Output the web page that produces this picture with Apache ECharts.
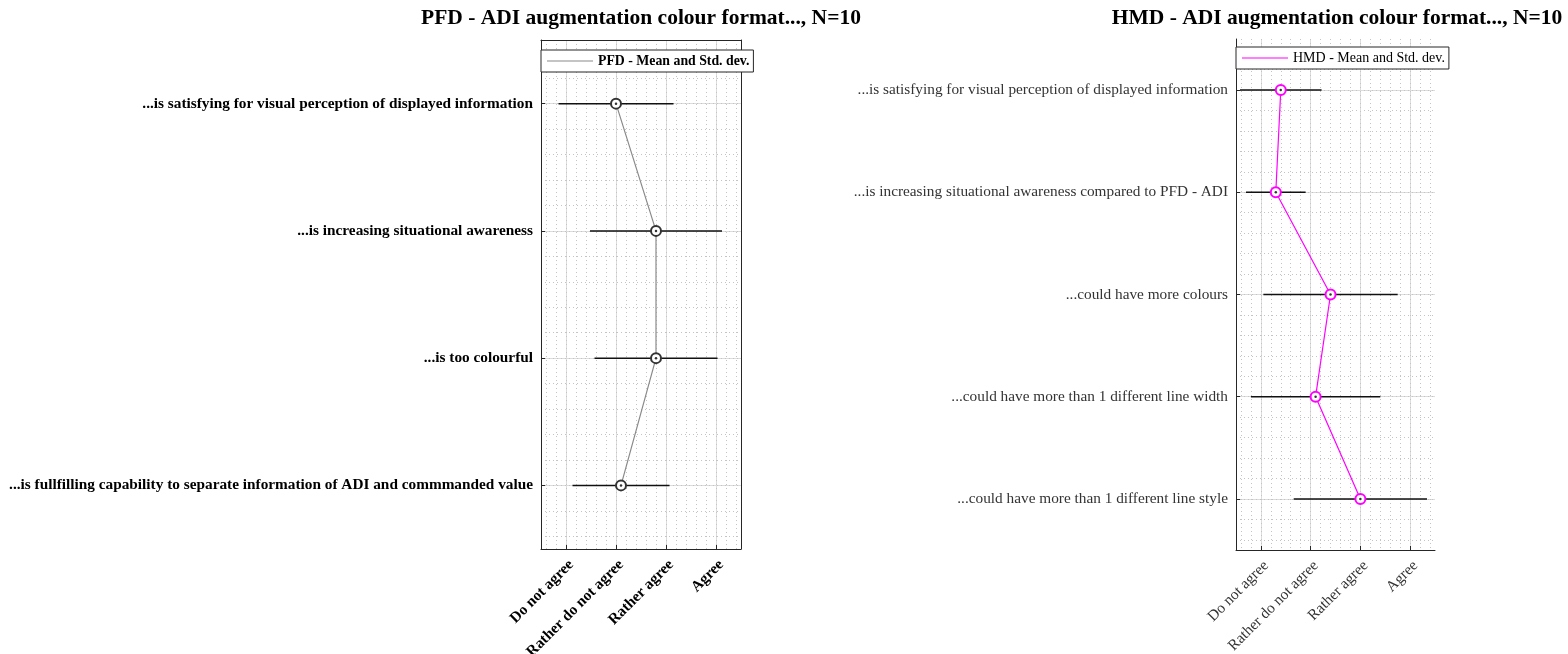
<!DOCTYPE html>
<html>
<head>
<meta charset="utf-8">
<script src="https://cdn.jsdelivr.net/npm/echarts@6/dist/echarts.min.js"></script>
<style>
  html, body { margin: 0; padding: 0; background: #fff; }
  #chart { width: 1568px; height: 654px; }
</style>
</head>
<body>
<div id="chart"></div>
<script>
// answer scale (x axis)
var scaleLabels = ['Do not agree', 'Rather do not agree', 'Rather agree', 'Agree']

// PFD - ADI questions, mean and std. dev.
var pfdItems = [
  '...is satisfying for visual perception of displayed information',
  '...is increasing situational awareness',
  '...is too colourful',
  '...is fullfilling capability to separate information of ADI and commmanded value'
]
var pfdMean = [2.0, 2.8, 2.8, 2.1]
var pfdStd = [1.15, 1.32, 1.23, 0.97]

// HMD - ADI questions, mean and std. dev.
var hmdItems = [
  '...is satisfying for visual perception of displayed information',
  '...is increasing situational awareness compared to PFD - ADI',
  '...could have more colours',
  '...could have more than 1 different line width',
  '...could have more than 1 different line style'
]
var hmdMean = [1.4, 1.3, 2.4, 2.1, 3.0]
var hmdStd = [0.82, 0.6, 1.35, 1.3, 1.34]

var FONT = '"Liberation Serif", "Times New Roman", serif'
var AXIS_COLOR = '#262626'
var LABEL_SIZE = 15.3

function seq(n) {
  var out = []
  for (var i = 1; i <= n; i++) out.push(i)
  return out
}

// x axes: one for labels / ticks / solid grid, one for the dotted minor grid
function xAxes(grid, bold, box) {
  return [
    {
      type: 'value', gridIndex: grid, position: 'bottom',
      min: 0.5, max: 4.5, interval: 0.5,
      axisLine: { show: true, onZero: false, lineStyle: { color: AXIS_COLOR, width: 1 } },
      axisTick: { show: true, inside: true, length: 4, customValues: seq(4), lineStyle: { color: AXIS_COLOR } },
      axisLabel: {
        customValues: seq(4), rotate: 45, margin: 8, verticalAlign: 'top',
        fontFamily: FONT, fontSize: LABEL_SIZE, fontWeight: bold ? 'bold' : 'normal', color: bold ? '#000' : '#333',
        formatter: function (v) { return scaleLabels[Math.round(v) - 1] || '' }
      },
      splitLine: { show: true, lineStyle: { color: '#dcdcdc', width: 1 } }
    },
    {
      type: 'value', gridIndex: grid, position: 'top',
      min: 0.5, max: 4.5, interval: 0.1,
      axisLine: { show: box, onZero: false, lineStyle: { color: AXIS_COLOR, width: 1 } },
      axisTick: { show: false },
      axisLabel: { show: false },
      splitLine: { show: true, showMinLine: true, lineStyle: { color: ['transparent', '#c4c4c4'], width: 1, type: [1, 3] } }
    }
  ]
}

function yAxes(grid, items, bold, box) {
  var n = items.length
  return [
    {
      type: 'value', gridIndex: grid, position: 'left', inverse: true,
      min: 0.5, max: n + 0.5, interval: 0.5,
      axisLine: { show: true, onZero: false, lineStyle: { color: AXIS_COLOR, width: 1 } },
      axisTick: { show: true, inside: true, length: 4, customValues: seq(n), lineStyle: { color: AXIS_COLOR } },
      axisLabel: {
        customValues: seq(n), margin: 8,
        fontFamily: FONT, fontSize: LABEL_SIZE, fontWeight: bold ? 'bold' : 'normal', color: bold ? '#000' : '#333',
        formatter: function (v) { return items[Math.round(v) - 1] || '' }
      },
      splitLine: { show: true, lineStyle: { color: '#dcdcdc', width: 1 } }
    },
    {
      type: 'value', gridIndex: grid, position: 'right', inverse: true,
      min: 0.5, max: n + 0.5, interval: 0.1,
      axisLine: { show: box, onZero: false, lineStyle: { color: AXIS_COLOR, width: 1 } },
      axisTick: { show: false },
      axisLabel: { show: false },
      splitLine: { show: true, showMinLine: true, lineStyle: { color: ['transparent', '#c4c4c4'], width: 1, type: [1, 3] } }
    }
  ]
}

function seriesFor(name, axisIdx, mean, std, color, ringColor) {
  return [
    {
      type: 'custom', name: name + ' err', xAxisIndex: axisIdx, yAxisIndex: axisIdx, z: 3,
      data: mean.map(function (m, i) { return [m - std[i], m + std[i], i + 1] }),
      encode: { x: [0, 1], y: 2 },
      renderItem: function (params, api) {
        var a = api.coord([api.value(0), api.value(2)])
        var b = api.coord([api.value(1), api.value(2)])
        return {
          type: 'line',
          shape: { x1: a[0], y1: a[1], x2: b[0], y2: b[1] },
          style: { stroke: '#111', lineWidth: 1.5 }
        }
      }
    },
    {
      type: 'line', name: name, xAxisIndex: axisIdx, yAxisIndex: axisIdx, z: 4,
      data: mean.map(function (m, i) { return [m, i + 1] }),
      lineStyle: { color: color, width: 1.2 },
      itemStyle: { color: ringColor, borderColor: ringColor, borderWidth: 1.3 },
      symbol: 'emptyCircle', symbolSize: 10, showAllSymbol: true
    },
    {
      type: 'scatter', name: name + ' mean', xAxisIndex: axisIdx, yAxisIndex: axisIdx, z: 5,
      data: mean.map(function (m, i) { return [m, i + 1] }),
      symbolSize: 2.5, itemStyle: { color: '#000' }
    }
  ]
}

function legendFor(name, color, left, top, bold) {
  return {
    data: [{ name: name, itemStyle: { color: color, borderWidth: 0 } }],
    left: left, top: top, selectedMode: false,
    icon: 'rect', itemWidth: 46, itemHeight: 1, itemGap: 6,
    padding: [4, 4, 4, 6], backgroundColor: '#fff',
    borderColor: AXIS_COLOR, borderWidth: 1, borderRadius: 0,
    textStyle: { fontFamily: FONT, fontSize: bold ? 13.8 : 14, fontWeight: bold ? 'bold' : 'normal', color: '#000' }
  }
}

var chart = echarts.init(document.getElementById('chart'))
chart.setOption({
  animation: false,
  backgroundColor: '#fff',
  graphic: [
    {
      type: 'text', x: 641, y: 18,
      style: { text: 'PFD - ADI augmentation colour format..., N=10', font: 'bold 21.5px ' + FONT, align: 'center', verticalAlign: 'middle', fill: '#000' }
    },
    {
      type: 'text', x: 1337, y: 18,
      style: { text: 'HMD - ADI augmentation colour format..., N=10', font: 'bold 21.5px ' + FONT, align: 'center', verticalAlign: 'middle', fill: '#000' }
    }
  ],
  grid: [
    { left: 541, top: 40, right: 827, bottom: 105, containLabel: false, outerBoundsMode: 'none' },
    { left: 1236, top: 39, right: 133, bottom: 104, containLabel: false, outerBoundsMode: 'none' }
  ],
  legend: [
    legendFor('PFD - Mean and Std. dev.', '#8a8a8a', 541, 50, true),
    legendFor('HMD - Mean and Std. dev.', '#ff00ff', 1236, 47, false)
  ],
  xAxis: xAxes(0, true, true).concat(xAxes(1, false, false)),
  yAxis: yAxes(0, pfdItems, true, true).concat(yAxes(1, hmdItems, false, false)),
  series: seriesFor('PFD - Mean and Std. dev.', 0, pfdMean, pfdStd, '#8a8a8a', '#333')
    .concat(seriesFor('HMD - Mean and Std. dev.', 0, hmdMean, hmdStd, '#ff00ff', '#ff00ff')
      .map(function (s) { s.xAxisIndex = 2; s.yAxisIndex = 2; return s }))
})
</script>
</body>
</html>
